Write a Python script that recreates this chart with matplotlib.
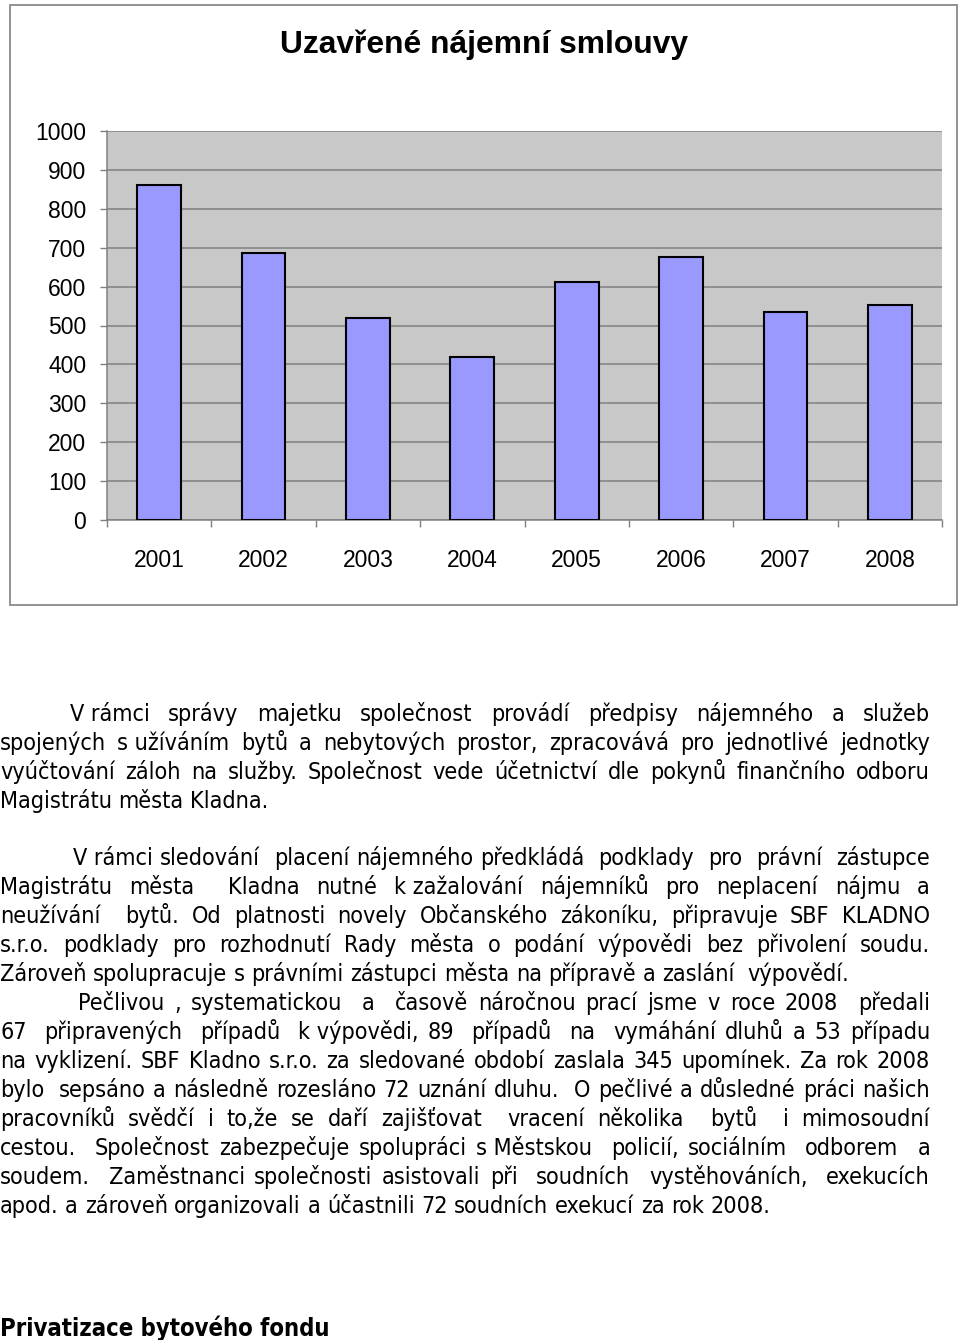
import matplotlib
matplotlib.use('Agg')
import matplotlib.pyplot as plt
from matplotlib.patches import Rectangle

W, H = 960, 1340

years = ['2001', '2002', '2003', '2004', '2005', '2006', '2007', '2008']
values = [861, 686, 520, 420, 611, 675, 535, 553]
y_ticks = [0, 100, 200, 300, 400, 500, 600, 700, 800, 900, 1000]

title = 'Uzavřené nájemní smlouvy'
heading = 'Privatizace bytového fondu'

NB = '\u00a0'
para1 = [
    'V' + NB + 'rámci správy majetku společnost provádí předpisy nájemného a služeb',
    'spojených s' + NB + 'užíváním bytů a nebytových prostor, zpracovává pro jednotlivé jednotky',
    'vyúčtování záloh na služby. Společnost vede účetnictví dle pokynů finančního odboru',
    'Magistrátu města Kladna.',
]
para2 = [
    'V' + NB + 'rámci sledování  placení nájemného předkládá  podklady  pro  právní  zástupce',
    'Magistrátu města  Kladna nutné k' + NB + 'zažalování nájemníků pro neplacení nájmu a',
    'neužívání  bytů. Od platnosti novely Občanského zákoníku, připravuje SBF KLADNO',
    's.r.o. podklady pro rozhodnutí Rady města o podání výpovědi bez přivolení soudu.',
    'Zároveň spolupracuje s právními zástupci města na přípravě a zaslání  výpovědí.',
]
para3 = [
    'Pečlivou , systematickou  a  časově náročnou prací jsme v roce 2008  předali',
    '67  připravených  případů  k' + NB + 'výpovědi, 89  případů  na  vymáhání dluhů a 53 případu',
    'na vyklizení. SBF Kladno s.r.o. za sledované období zaslala 345 upomínek. Za rok 2008',
    'bylo  sepsáno a následně rozesláno 72 uznání dluhu.  O pečlivé a důsledné práci našich',
    'pracovníků svědčí i to,že se daří zajišťovat  vracení několika  bytů  i mimosoudní',
    'cestou.  Společnost zabezpečuje spolupráci s' + NB + 'Městskou  policií, sociálním  odborem  a',
    'soudem.  Zaměstnanci společnosti asistovali při  soudních  vystěhováních,  exekucích',
    'apod. a zároveň organizovali a účastnili 72 soudních exekucí za rok 2008.',
]


def fx(x):
    return x / W


def fy(y):
    return 1 - y / H


fig = plt.figure(figsize=(W / 100, H / 100), dpi=100)
fig.patch.set_facecolor('white')
renderer = fig.canvas.get_renderer()

# ---- chart ----
chart_font = ['Liberation Sans', 'DejaVu Sans']
ax = fig.add_axes([fx(107), fy(520), (942 - 107) / W, (520 - 131) / H])
ax.set_facecolor('#C8C8C8')
ax.bar(range(len(years)), values, width=0.42, color='#9999FF',
       edgecolor='black', linewidth=1.5, zorder=3)
ax.set_xlim(-0.5, len(years) - 0.5)
ax.set_ylim(0, 1000)
ax.set_yticks(y_ticks)
ax.set_yticklabels([str(v) for v in y_ticks], fontsize=16.5, family=chart_font)
ax.set_xticks(range(len(years)))
ax.set_xticklabels(years, fontsize=16.5, family=chart_font)
ax.set_xticks([i - 0.5 for i in range(len(years) + 1)], minor=True)
ax.tick_params(axis='x', which='major', length=0, pad=21)
ax.tick_params(axis='x', which='minor', length=5, color='#808080', width=1)
ax.tick_params(axis='y', length=5, color='#808080', width=1, pad=10)
ax.yaxis.grid(True, color='#808080', linewidth=1.1)
ax.set_axisbelow(True)
for s in ['top', 'right']:
    ax.spines[s].set_visible(False)
for s in ['left', 'bottom']:
    ax.spines[s].set_color('#808080')
    ax.spines[s].set_linewidth(1.1)

fig.patches.append(Rectangle((fx(9.5), fy(605)), (957 - 9.5) / W, 600 / H,
                             transform=fig.transFigure, fill=False,
                             edgecolor='#808080', linewidth=1.2))


def fit_size(text, target, **kw):
    t = fig.text(0, 0, text, fontsize=10, **kw)
    w = t.get_window_extent(renderer).width
    t.remove()
    return 10 * target / w


tsize = fit_size(title, 408, family=chart_font, weight='bold')
fig.text(fx(484), fy(53), title, fontsize=tsize, family=chart_font,
         weight='bold', ha='center', va='baseline')

# ---- body text ----
body_kw = dict(family='DejaVu Sans', fontstretch='condensed')
bsize = fit_size(para3[-1], 776, **body_kw)


def word_width(w):
    t = fig.text(0, 0, w, fontsize=bsize, **body_kw)
    wd = t.get_window_extent(renderer).width
    t.remove()
    return wd


space_w = word_width('a a') - word_width('aa')


def put_line(line, y, x0, x1, justify):
    tokens = line.split(' ')
    words = []
    gaps = []
    n = 0
    for tok in tokens:
        if tok == '':
            n += 1
            continue
        if words:
            gaps.append(n)
        words.append(tok)
        n = 1
    widths = [word_width(w) for w in words]
    total_sp = sum(gaps)
    if justify and total_sp > 0:
        per_space = (x1 - x0 - sum(widths)) / total_sp
    else:
        per_space = space_w
    x = x0
    for i, w in enumerate(words):
        fig.text(fx(x), fy(y), w, fontsize=bsize, ha='left', va='baseline',
                 color='black', **body_kw)
        x += widths[i]
        if i < len(gaps):
            x += gaps[i] * per_space


right = 930
y = 721
for i, line in enumerate(para1):
    put_line(line, y, 70 if i == 0 else 0, right, i < len(para1) - 1)
    y += 29
y = 865
for i, line in enumerate(para2):
    put_line(line, y, 73 if i == 0 else 0, right, i < len(para2) - 1)
    y += 29
for i, line in enumerate(para3):
    put_line(line, y, 78 if i == 0 else 0, right, i < len(para3) - 1)
    y += 29

hsize = fit_size(heading, 328, family='DejaVu Sans', weight='bold', fontstretch='condensed')
fig.text(fx(0), fy(1336), heading, fontsize=hsize, family='DejaVu Sans',
         weight='bold', fontstretch='condensed', ha='left', va='baseline')

fig.savefig('out.png', dpi=100, facecolor='white')
